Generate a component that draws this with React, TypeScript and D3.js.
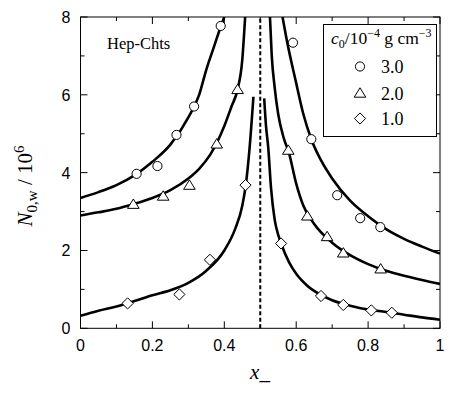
import React from "react";
import * as d3 from "d3";

const xTicks = [0, 0.2, 0.4, 0.6, 0.8, 1];
const xTickLabels = ["0", "0.2", "0.4", "0.6", "0.8", "1"];
const yTicks = [0, 2, 4, 6, 8];
const xMinor = [0.1, 0.3, 0.5, 0.7, 0.9];
const yMinor = [1, 3, 5, 7];

const seriesNames = ["3.0", "2.0", "1.0"];
const symbols = ["circle", "triangle", "diamond"];

const pts30: [number, number][] = [
  [0.156, 3.97], [0.214, 4.17], [0.267, 4.97], [0.316, 5.7], [0.39, 7.77],
  [0.591, 7.34], [0.642, 4.86], [0.714, 3.42], [0.778, 2.83], [0.834, 2.6],
];
const pts20: [number, number][] = [
  [0.147, 3.19], [0.23, 3.4], [0.303, 3.68], [0.379, 4.74], [0.437, 6.14],
  [0.578, 4.58], [0.631, 2.89], [0.686, 2.36], [0.731, 1.94], [0.835, 1.53],
];
const pts10: [number, number][] = [
  [0.131, 0.64], [0.275, 0.87], [0.36, 1.76], [0.459, 3.68],
  [0.558, 2.18], [0.669, 0.83], [0.731, 0.6], [0.809, 0.46], [0.866, 0.4],
];

const curve30L: [number, number][] = [
  [0, 3.35], [0.05, 3.5], [0.1, 3.68], [0.15, 3.93], [0.2, 4.28], [0.25, 4.72],
  [0.3, 5.42], [0.33, 6.0], [0.35, 6.65], [0.37, 7.2], [0.39, 7.75], [0.4, 8.0],
];
const curve30R: [number, number][] = [
  [0.562, 8.0], [0.575, 7.35], [0.6, 6.3], [0.62, 5.5], [0.642, 4.86], [0.67, 4.3],
  [0.7, 3.85], [0.75, 3.28], [0.8, 2.88], [0.85, 2.55], [0.9, 2.3], [0.95, 2.1], [1.0, 1.92],
];
const curve20L: [number, number][] = [
  [0, 2.9], [0.05, 2.98], [0.1, 3.07], [0.15, 3.2], [0.2, 3.35], [0.25, 3.55],
  [0.3, 3.85], [0.33, 4.1], [0.36, 4.45], [0.38, 4.78], [0.4, 5.2], [0.42, 5.7],
  [0.437, 6.14], [0.45, 6.9], [0.458, 8.0],
];
const curve20R: [number, number][] = [
  [0.527, 8.0], [0.532, 7.0], [0.54, 6.2], [0.55, 5.5], [0.565, 4.9], [0.58, 4.5],
  [0.6, 3.72], [0.62, 3.15], [0.65, 2.68], [0.7, 2.2], [0.75, 1.88], [0.8, 1.65],
  [0.85, 1.48], [0.9, 1.35], [0.95, 1.24], [1.0, 1.14],
];
const curve10L: [number, number][] = [
  [0, 0.32], [0.05, 0.45], [0.1, 0.56], [0.15, 0.7], [0.2, 0.85], [0.25, 0.98],
  [0.3, 1.17], [0.35, 1.48], [0.4, 2.0], [0.43, 2.55], [0.45, 3.15], [0.46, 3.7],
  [0.47, 4.6], [0.481, 5.95],
];
const curve10R: [number, number][] = [
  [0.511, 5.91], [0.516, 5.2], [0.522, 4.67], [0.53, 3.6], [0.54, 2.8], [0.55, 2.4],
  [0.558, 2.18], [0.58, 1.7], [0.6, 1.4], [0.63, 1.1], [0.67, 0.85], [0.7, 0.72],
  [0.75, 0.58], [0.8, 0.48], [0.85, 0.42], [0.9, 0.35], [0.95, 0.28], [1.0, 0.22],
];

const curves = [curve30L, curve30R, curve20L, curve20R, curve10L, curve10R];
const pointSets = [pts30, pts20, pts10];
const criticalX = [0.5];

const W = 450, H = 398;
const L = 80.5, R = 440, T = 17, B = 328.3;

export default function App() {
  const x = d3.scaleLinear().domain([0, 1]).range([L, R]);
  const y = d3.scaleLinear().domain([0, 8]).range([B, T]);
  const line = d3.line<[number, number]>().x(d => x(d[0])).y(d => y(d[1])).curve(d3.curveMonotoneX);
  const sym = {
    circle: d3.symbol().type(d3.symbolCircle).size(66)(),
    triangle: "M0,-5.2L5.8,4.2L-5.8,4.2Z",
    diamond: "M0,-5.6L5.6,0L0,5.6L-5.6,0Z",
  } as Record<string, string>;
  const serif = "'Liberation Serif', 'Times New Roman', serif";
  const sans = "'Liberation Sans', Arial, sans-serif";
  const legendRowsY = [66.5, 93, 118.5];
  return (
    <svg width={W} height={H} style={{ position: "absolute", left: 0, top: 0, background: "#fff" }}>
      <defs>
        <clipPath id="plot"><rect x={L} y={T} width={R - L} height={B - T} /></clipPath>
      </defs>
      <rect x={0} y={0} width={W} height={H} fill="#fff" />
      {xTicks.map(t => (
        <g key={"xt" + t}>
          <line x1={x(t)} x2={x(t)} y1={B} y2={B - 7} stroke="#000" />
          <line x1={x(t)} x2={x(t)} y1={T} y2={T + 7} stroke="#000" />
        </g>
      ))}
      {xMinor.map(t => (
        <g key={"xm" + t}>
          <line x1={x(t)} x2={x(t)} y1={B} y2={B - 4} stroke="#000" />
          <line x1={x(t)} x2={x(t)} y1={T} y2={T + 4} stroke="#000" />
        </g>
      ))}
      {yTicks.map(t => (
        <g key={"yt" + t}>
          <line x1={L} x2={L + 7} y1={y(t)} y2={y(t)} stroke="#000" />
          <line x1={R} x2={R - 7} y1={y(t)} y2={y(t)} stroke="#000" />
        </g>
      ))}
      {yMinor.map(t => (
        <g key={"ym" + t}>
          <line x1={L} x2={L + 4} y1={y(t)} y2={y(t)} stroke="#000" />
          <line x1={R} x2={R - 4} y1={y(t)} y2={y(t)} stroke="#000" />
        </g>
      ))}
      {criticalX.map(c => (
        <line key={"c" + c} x1={x(c)} x2={x(c)} y1={y(0)} y2={y(8)} stroke="#000" strokeWidth={2} strokeDasharray="4,2.5" />
      ))}
      <g clipPath="url(#plot)">
        {curves.map((c, i) => (
          <path key={"c" + i} d={line(c) || ""} fill="none" stroke="#000" strokeWidth={2.6} />
        ))}
      </g>
      {pointSets.map((ps, i) =>
        ps.map((p, j) => (
          <path key={i + "-" + j} d={sym[symbols[i]]} transform={`translate(${x(p[0])},${y(p[1])})`} fill="#fff" stroke="#000" strokeWidth={1} />
        ))
      )}
      <rect x={L} y={T} width={R - L} height={B - T} fill="none" stroke="#000" strokeWidth={1} />
      {xTicks.map((t, i) => (
        <text key={"xl" + t} x={x(t)} y={351} textAnchor="middle" fontFamily={sans} fontSize={16}>{xTickLabels[i]}</text>
      ))}
      {yTicks.map(t => (
        <text key={"yl" + t} x={66} y={y(t) + 6} textAnchor="middle" fontFamily={sans} fontSize={16}>{t}</text>
      ))}
      <text x={260} y={379} textAnchor="middle" fontFamily={serif} fontSize={21} fontStyle="italic">x<tspan fontStyle="normal">_</tspan></text>
      <text transform={`translate(32,186) rotate(-90)`} textAnchor="middle" fontFamily={serif} fontSize={21}>
        <tspan fontStyle="italic">N</tspan>
        <tspan fontSize={15} dy={5}>0,w</tspan>
        <tspan dy={-5}> / 10</tspan>
        <tspan fontSize={15} dy={-8}>6</tspan>
      </text>
      <text x={107} y={49} fontFamily={serif} fontSize={16.5}>Hep-Chts</text>
      <rect x={323.5} y={24.5} width={113} height={112} fill="#fff" stroke="#000" strokeWidth={1} />
      <text x={331} y={44} fontFamily={serif} fontSize={17.5}>
        <tspan fontStyle="italic">c</tspan>
        <tspan fontSize={12} dy={4}>0</tspan>
        <tspan dy={-4}>/10</tspan>
        <tspan fontSize={12} dy={-7}>−4</tspan>
        <tspan dy={7}> g cm</tspan>
        <tspan fontSize={12} dy={-7}>−3</tspan>
      </text>
      {seriesNames.map((s, i) => (
        <g key={"lg" + s}>
          <path d={sym[symbols[i]]} transform={`translate(360,${legendRowsY[i]})`} fill="#fff" stroke="#000" strokeWidth={1} />
          <text x={381} y={legendRowsY[i] + 6.5} fontFamily={serif} fontSize={18}>{s}</text>
        </g>
      ))}
    </svg>
  );
}
